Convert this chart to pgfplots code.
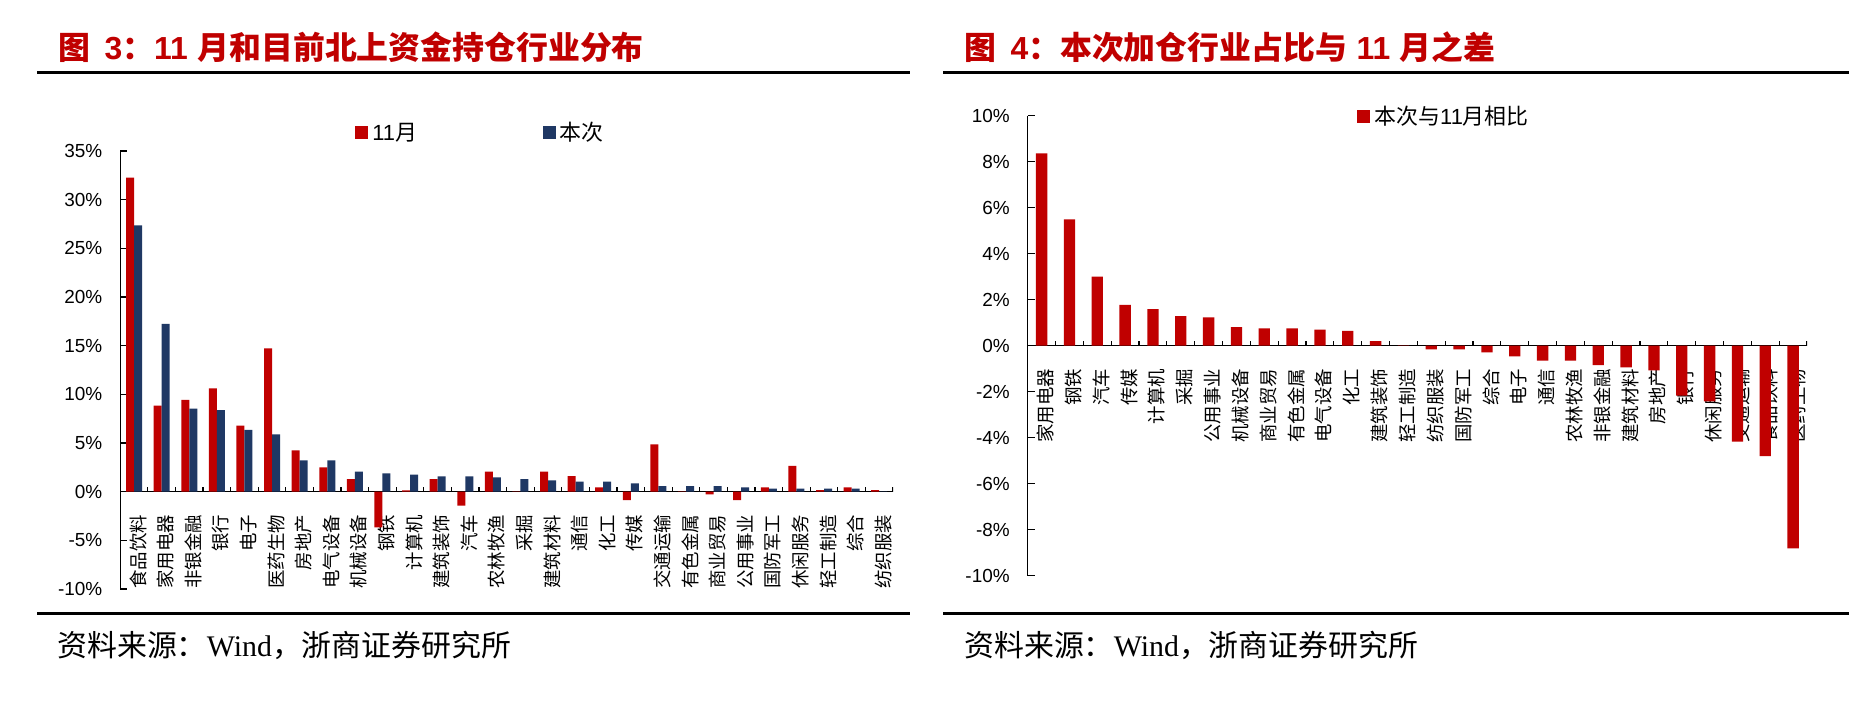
\documentclass[border=0pt]{standalone}
\usepackage{pgfplots}
\pgfplotsset{compat=1.18}
\usepackage{fontspec}
\setmainfont{Liberation Sans}
\newfontfamily\cjk{Noto Sans CJK SC}
\newfontfamily\serif{Liberation Serif}

\definecolor{zsred}{RGB}{192,0,0}
\definecolor{zsblue}{RGB}{31,56,100}

% shared look of both bar panels
\pgfplotsset{
  zsbars/.style={
    scale only axis,
    axis y line*=left,
    axis x line*=middle,
    enlargelimits=false,
    xmin=-0.5, xmax=27.5,
    xtick={0,...,27},
    xtick style={draw=none},
    ytick style={black, line width=0.6bp},
    tick align=inside,
    major tick length=3.5bp,
    axis line style={black, line width=0.6bp},
    hide obscured x ticks=false,
    hide obscured y ticks=false,
    tick label style={font=\fontsize{9.5}{10}\selectfont},
    yticklabel style={xshift=-5.5bp},
    xticklabel style={yshift=-4.5bp, xshift=2bp, rotate=90, anchor=east,
                      font=\cjk\fontsize{9.25}{10}\selectfont},
    legend style={draw=none, fill=none, inner sep=0pt,
                  font=\fontsize{11}{12}\selectfont},
  },
  sq legend/.style={
    legend image code/.code={\fill[##1, draw=none] (0bp,-3bp) rectangle (6.5bp,3.5bp);},
  },
}

\begin{document}
\begin{tikzpicture}
\path[use as bounding box, fill=white] (0bp,0bp) rectangle (936bp,-351bp);

% ---------- 图 3 ----------
\begin{axis}[zsbars,
  at={(60.15bp,-294.5bp)}, anchor=south west,
  width=386.35bp, height=219bp,
  ymin=-10, ymax=35,
  ytick={-10,-5,...,35},
  yticklabels={-10\%,-5\%,0\%,5\%,10\%,15\%,20\%,25\%,30\%,35\%},
  ybar=0pt, bar width=4bp,
  xticklabels={食品饮料,家用电器,非银金融,银行,电子,医药生物,房地产,电气设备,机械设备,钢铁,计算机,建筑装饰,汽车,农林牧渔,采掘,建筑材料,通信,化工,传媒,交通运输,有色金属,商业贸易,公用事业,国防军工,休闲服务,轻工制造,综合,纺织服装},
  legend columns=2,
  legend style={at={(0.3037,1.041)}, anchor=west,
                /tikz/every even column/.append style={column sep=61bp}},
]
\addplot[fill=zsred, draw=none, sq legend] coordinates {
  (0,32.26) (1,8.84) (2,9.42) (3,10.62) (4,6.78) (5,14.73) (6,4.25)
  (7,2.50) (8,1.30) (9,-3.66) (10,0.14) (11,1.30) (12,-1.44) (13,2.05)
  (14,0.02) (15,2.05) (16,1.61) (17,0.45) (18,-0.86) (19,4.86) (20,0.02)
  (21,-0.27) (22,-0.86) (23,0.45) (24,2.64) (25,0.17) (26,0.45) (27,0.17)
};
\addlegendentry{11{\cjk 月}}
\addplot[fill=zsblue, draw=none, sq legend] coordinates {
  (0,27.36) (1,17.23) (2,8.53) (3,8.39) (4,6.34) (5,5.89) (6,3.22)
  (7,3.22) (8,2.05) (9,1.88) (10,1.75) (11,1.58) (12,1.58) (13,1.47)
  (14,1.30) (15,1.16) (16,1.03) (17,1.03) (18,0.86) (19,0.58) (20,0.58)
  (21,0.58) (22,0.45) (23,0.31) (24,0.31) (25,0.31) (26,0.31) (27,0.02)
};
\addlegendentry{\cjk 本次}
\pgfplotsinvokeforeach{0,...,27}{
  \draw[black, line width=0.6bp] (axis cs:#1+0.5,0) -- ++(0bp,2.5bp);
}
\end{axis}

% ---------- 图 4 ----------
\begin{axis}[zsbars,
  at={(513.85bp,-287.85bp)}, anchor=south west,
  width=389.65bp, height=230bp,
  ymin=-10, ymax=10,
  ytick={-10,-8,...,10},
  yticklabels={-10\%,-8\%,-6\%,-4\%,-2\%,0\%,2\%,4\%,6\%,8\%,10\%},
  ybar=0pt, bar width=5.65bp,
  xticklabels={家用电器,钢铁,汽车,传媒,计算机,采掘,公用事业,机械设备,商业贸易,有色金属,电气设备,化工,建筑装饰,轻工制造,纺织服装,国防军工,综合,电子,通信,农林牧渔,非银金融,建筑材料,房地产,银行,休闲服务,交通运输,食品饮料,医药生物},
  legend style={at={(0.4226,0.9972)}, anchor=west},
]
\addplot[fill=zsred, draw=none, sq legend] coordinates {
  (0,8.36) (1,5.49) (2,3.00) (3,1.77) (4,1.59) (5,1.29) (6,1.23)
  (7,0.81) (8,0.75) (9,0.75) (10,0.70) (11,0.64) (12,0.20) (13,0.01)
  (14,-0.16) (15,-0.16) (16,-0.29) (17,-0.46) (18,-0.65) (19,-0.65)
  (20,-0.84) (21,-0.94) (22,-1.07) (23,-2.17) (24,-2.42) (25,-4.17)
  (26,-4.80) (27,-8.81)
};
\addlegendentry{{\cjk 本次与}11{\cjk 月相比}}
\pgfplotsinvokeforeach{0,...,27}{
  \draw[black, line width=0.6bp] (axis cs:#1+0.5,0) -- ++(0bp,2.5bp);
}
\end{axis}

% ---------- titles, rules, sources ----------
\begin{scope}[x=0.5bp, y=-0.5bp]
\fill[black] (37,71.5) rectangle (910,74.5);
\fill[black] (943,71.5) rectangle (1849,74.5);
\fill[black] (37,612.5) rectangle (910,615.5);
\fill[black] (943,612.5) rectangle (1849,615.5);
\node[anchor=west, inner sep=0pt, text=zsred,
      font=\bfseries\fontsize{16}{17}\selectfont] at (58,47.5)
  {{\cjk 图}\hspace{0.45em}3{\cjk ：}11\hspace{0.3em}{\cjk 月和目前北上资金持仓行业分布}};
\node[anchor=west, inner sep=0pt, text=zsred,
      font=\bfseries\fontsize{16}{17}\selectfont] at (964,47.5)
  {{\cjk 图}\hspace{0.45em}4{\cjk ：本次加仓行业占比与}\hspace{0.3em}11\hspace{0.3em}{\cjk 月之差}};
\node[anchor=west, inner sep=0pt, font=\fontsize{15}{16}\selectfont] at (57,645)
  {{\cjk 资料来源：}{\serif Wind}{\cjk ，浙商证券研究所}};
\node[anchor=west, inner sep=0pt, font=\fontsize{15}{16}\selectfont] at (964,645)
  {{\cjk 资料来源：}{\serif Wind}{\cjk ，浙商证券研究所}};
\end{scope}
\end{tikzpicture}
\end{document}
